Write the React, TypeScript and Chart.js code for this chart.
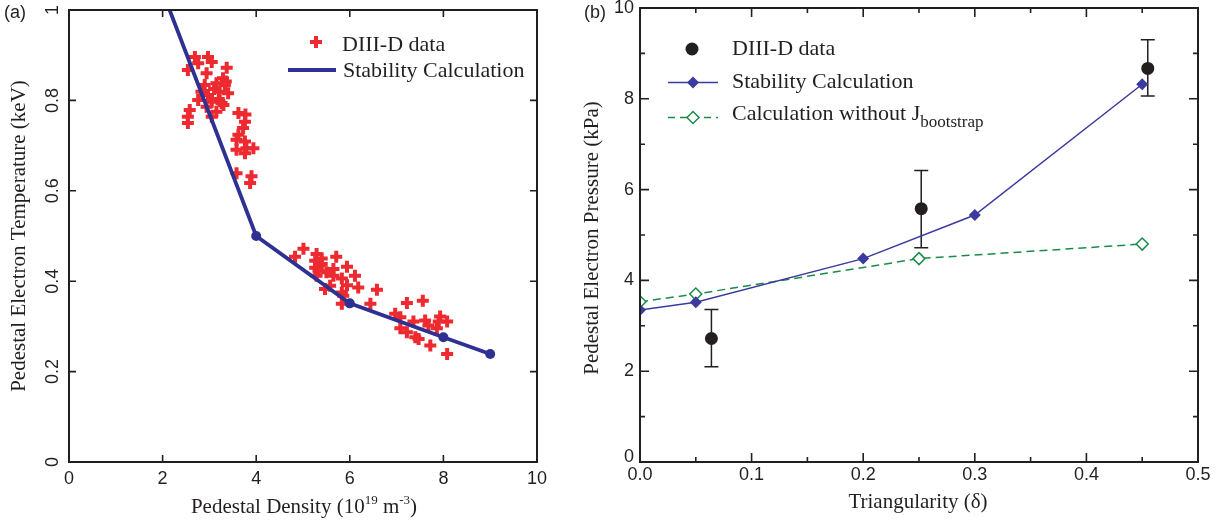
import React, { useEffect, useRef } from "react";
import { Chart, registerables } from "chart.js";

Chart.register(...registerables);

// ---------- Panel (a) data ----------
const densityData = [
  2.69, 2.97, 2.76, 3.05, 2.54, 3.37, 2.94, 3.29, 2.9, 3.15, 3.33, 3.4, 2.83, 3.22, 2.76, 3.05, 3.26, 3.15, 2.58, 2.54, 2.54, 3.05, 2.94, 3.1, 3.35, 3.2, 2.97, 3.3,
  3.62, 3.77, 3.76, 3.72, 3.62, 3.58, 3.76, 3.79, 3.58, 3.94, 3.76, 3.58, 3.9, 3.87,
  5.01, 4.83, 5.29, 5.71, 5.26, 5.4, 5.26, 5.94, 5.33, 5.65, 5.65, 6.11, 5.83, 5.29, 5.58, 5.94, 6.18, 5.47, 5.83, 6.58, 5.86, 6.44, 5.83, 5.4, 5.35, 5.5,
  7.22, 7.56, 6.97, 7.08, 7.36, 7.61, 7.93, 8.08, 7.9, 7.68, 7.08, 7.22, 7.86, 7.4, 7.47, 7.72, 8.08,
];
const temperatureData = [
  0.896, 0.896, 0.882, 0.885, 0.867, 0.872, 0.86, 0.849, 0.834, 0.838, 0.834, 0.816, 0.819, 0.819, 0.801, 0.797, 0.794, 0.775, 0.779, 0.764, 0.75, 0.764, 0.786, 0.825, 0.842, 0.803, 0.812, 0.79,
  0.772, 0.769, 0.753, 0.739, 0.724, 0.713, 0.709, 0.694, 0.691, 0.694, 0.683, 0.639, 0.632, 0.617,
  0.472, 0.454, 0.46, 0.454, 0.445, 0.438, 0.43, 0.432, 0.423, 0.427, 0.412, 0.412, 0.406, 0.412, 0.39, 0.391, 0.386, 0.383, 0.375, 0.381, 0.368, 0.35, 0.35, 0.45, 0.436, 0.42,
  0.352, 0.357, 0.328, 0.32, 0.311, 0.313, 0.322, 0.311, 0.311, 0.302, 0.296, 0.287, 0.296, 0.276, 0.272, 0.258, 0.239,
];
const stabilityDensity = [2.15, 4, 6, 8, 9];
const stabilityTemperature = [1.0, 0.5, 0.351, 0.276, 0.239];
const xTicksA = [0, 2, 4, 6, 8, 10];
const xTickLabelsA = ["0", "2", "4", "6", "8", "10"];
const yTicksA = [0, 0.2, 0.4, 0.6, 0.8, 1];
const yTickLabelsA = ["0", "0.2", "0.4", "0.6", "0.8", "1"];

// ---------- Panel (b) data ----------
const measTriangularity = [0.064, 0.252, 0.455];
const measPressure = [2.72, 5.58, 8.67];
const measPressureLow = [2.1, 4.72, 8.06];
const measPressureHigh = [3.36, 6.42, 9.3];
const calcTriangularity = [0, 0.05, 0.2, 0.3, 0.45];
const calcPressure = [3.35, 3.52, 4.48, 5.44, 8.32];
const noBootTriangularity = [0, 0.05, 0.25, 0.45];
const noBootPressure = [3.53, 3.7, 4.48, 4.8];
const xTicksB = [0, 0.1, 0.2, 0.3, 0.4, 0.5];
const xTickLabelsB = ["0.0", "0.1", "0.2", "0.3", "0.4", "0.5"];
const xMinorTicksB = [0.05, 0.15, 0.25, 0.35, 0.45];
const yTicksB = [0, 2, 4, 6, 8, 10];
const yTickLabelsB = ["0", "2", "4", "6", "8", "10"];
const yMinorTicksB = [1, 3, 5, 7, 9];

// ---------- styles ----------
const INK = "#231f20";
const RED = "#ec2a30";
const NAVY = "#2e3192";
const BLUE = "#3b3a9e";
const GREEN = "#1a8c48";
const SERIF = '"Liberation Serif", "Times New Roman", serif';
const SANS = '"Liberation Sans", Arial, sans-serif';

type Seg = { t: string; size: number; dy?: number };

function segsWidth(ctx: CanvasRenderingContext2D, segs: Seg[]) {
  let w = 0;
  for (const s of segs) {
    ctx.font = `${s.size}px ${SERIF}`;
    w += ctx.measureText(s.t).width;
  }
  return w;
}
function drawSegs(ctx: CanvasRenderingContext2D, segs: Seg[], x: number, y: number) {
  let cx = x;
  ctx.textAlign = "left";
  ctx.textBaseline = "alphabetic";
  for (const s of segs) {
    ctx.font = `${s.size}px ${SERIF}`;
    ctx.fillText(s.t, cx, y + (s.dy || 0));
    cx += ctx.measureText(s.t).width;
  }
}
function drawSegsCentered(ctx: CanvasRenderingContext2D, segs: Seg[], cx: number, y: number) {
  drawSegs(ctx, segs, cx - segsWidth(ctx, segs) / 2, y);
}

function drawFrame(chart: any, xt: number[], yt: number[], xm: number[], ym: number[], majorLen: number, minorLen: number) {
  const { ctx, chartArea: a, scales } = chart;
  const xs = scales.x;
  const ys = scales.y;
  ctx.save();
  ctx.strokeStyle = INK;
  ctx.lineWidth = 1.6;
  const tickX = (v: number, len: number) => {
    const p = xs.getPixelForValue(v);
    ctx.beginPath();
    ctx.moveTo(p, a.bottom);
    ctx.lineTo(p, a.bottom - len);
    ctx.moveTo(p, a.top);
    ctx.lineTo(p, a.top + len);
    ctx.stroke();
  };
  const tickY = (v: number, len: number) => {
    const p = ys.getPixelForValue(v);
    ctx.beginPath();
    ctx.moveTo(a.left, p);
    ctx.lineTo(a.left + len, p);
    ctx.moveTo(a.right, p);
    ctx.lineTo(a.right - len, p);
    ctx.stroke();
  };
  xt.forEach((v) => tickX(v, majorLen));
  xm.forEach((v) => tickX(v, minorLen));
  yt.forEach((v) => tickY(v, majorLen));
  ym.forEach((v) => tickY(v, minorLen));
  ctx.lineWidth = 2;
  ctx.strokeRect(a.left, a.top, a.right - a.left, a.bottom - a.top);
  ctx.restore();
}

const panelAPlugin = {
  id: "panelA",
  afterDraw(chart: any) {
    const { ctx, chartArea: a, scales } = chart;
    drawFrame(chart, xTicksA, yTicksA, [], [], 7, 4);
    ctx.save();
    ctx.fillStyle = INK;
    ctx.font = `18px ${SANS}`;
    ctx.textAlign = "center";
    ctx.textBaseline = "top";
    xTicksA.forEach((v, i) => ctx.fillText(xTickLabelsA[i], scales.x.getPixelForValue(v), a.bottom + 8));
    yTicksA.forEach((v, i) => {
      ctx.save();
      ctx.translate(58, scales.y.getPixelForValue(v));
      ctx.rotate(-Math.PI / 2);
      ctx.textAlign = "center";
      ctx.textBaseline = "alphabetic";
      ctx.fillText(yTickLabelsA[i], 0, 0);
      ctx.restore();
    });
    ctx.font = `18px ${SANS}`;
    ctx.textAlign = "left";
    ctx.textBaseline = "middle";
    ctx.fillText("(a)", 4, 13);
    drawSegsCentered(
      ctx,
      [
        { t: "Pedestal Density (10", size: 21 },
        { t: "19", size: 13, dy: -9 },
        { t: " m", size: 21 },
        { t: "-3", size: 13, dy: -9 },
        { t: ")", size: 21 },
      ],
      304,
      513
    );
    ctx.save();
    ctx.translate(25, 236);
    ctx.rotate(-Math.PI / 2);
    drawSegsCentered(ctx, [{ t: "Pedestal Electron Temperature (keV)", size: 21 }], 0, 0);
    ctx.restore();
    // legend
    ctx.strokeStyle = RED;
    ctx.lineWidth = 4;
    ctx.beginPath();
    ctx.moveTo(316 - 6, 42);
    ctx.lineTo(316 + 6, 42);
    ctx.moveTo(316, 42 - 6);
    ctx.lineTo(316, 42 + 6);
    ctx.stroke();
    drawSegs(ctx, [{ t: "DIII-D data", size: 22 }], 342, 51);
    ctx.strokeStyle = NAVY;
    ctx.lineWidth = 3.8;
    ctx.beginPath();
    ctx.moveTo(288, 70);
    ctx.lineTo(336, 70);
    ctx.stroke();
    drawSegs(ctx, [{ t: "Stability Calculation", size: 22 }], 343, 77);
    ctx.restore();
  },
};

const panelBPlugin = {
  id: "panelB",
  beforeDatasetsDraw(chart: any) {
    const { ctx, scales } = chart;
    ctx.save();
    ctx.strokeStyle = INK;
    ctx.lineWidth = 1.5;
    measTriangularity.forEach((t, i) => {
      const px = scales.x.getPixelForValue(t);
      const top = scales.y.getPixelForValue(measPressureHigh[i]);
      const bot = scales.y.getPixelForValue(measPressureLow[i]);
      ctx.beginPath();
      ctx.moveTo(px, top);
      ctx.lineTo(px, bot);
      ctx.moveTo(px - 7, top);
      ctx.lineTo(px + 7, top);
      ctx.moveTo(px - 7, bot);
      ctx.lineTo(px + 7, bot);
      ctx.stroke();
    });
    ctx.restore();
  },
  afterDraw(chart: any) {
    const { ctx, chartArea: a, scales } = chart;
    drawFrame(chart, xTicksB, yTicksB, xMinorTicksB, yMinorTicksB, 9, 5);
    ctx.save();
    ctx.fillStyle = INK;
    ctx.font = `18px ${SANS}`;
    ctx.textAlign = "center";
    ctx.textBaseline = "top";
    xTicksB.forEach((v, i) => ctx.fillText(xTickLabelsB[i], scales.x.getPixelForValue(v), a.bottom + 4));
    ctx.textAlign = "right";
    ctx.textBaseline = "middle";
    yTicksB.forEach((v, i) => {
      const p = scales.y.getPixelForValue(v);
      ctx.fillText(yTickLabelsB[i], a.left - 6, i === 0 ? p - 5 : p);
    });
    ctx.textAlign = "left";
    ctx.fillText("(b)", 4, 13);
    drawSegsCentered(ctx, [{ t: "Triangularity (δ)", size: 21 }], 338, 508);
    ctx.save();
    ctx.translate(18, 238);
    ctx.rotate(-Math.PI / 2);
    drawSegsCentered(ctx, [{ t: "Pedestal Electron Pressure (kPa)", size: 21 }], 0, 0);
    ctx.restore();
    // legend
    ctx.fillStyle = INK;
    ctx.beginPath();
    ctx.arc(112, 49, 6.5, 0, Math.PI * 2);
    ctx.fill();
    drawSegs(ctx, [{ t: "DIII-D data", size: 22 }], 152, 55);
    ctx.strokeStyle = BLUE;
    ctx.lineWidth = 1.5;
    ctx.beginPath();
    ctx.moveTo(88, 82.5);
    ctx.lineTo(138, 82.5);
    ctx.stroke();
    ctx.fillStyle = BLUE;
    ctx.beginPath();
    ctx.moveTo(113, 82.5 - 6);
    ctx.lineTo(119, 82.5);
    ctx.lineTo(113, 82.5 + 6);
    ctx.lineTo(107, 82.5);
    ctx.closePath();
    ctx.fill();
    ctx.fillStyle = INK;
    drawSegs(ctx, [{ t: "Stability Calculation", size: 22 }], 152, 88);
    ctx.strokeStyle = GREEN;
    ctx.setLineDash([7, 5]);
    ctx.beginPath();
    ctx.moveTo(88, 117.5);
    ctx.lineTo(138, 117.5);
    ctx.stroke();
    ctx.setLineDash([]);
    ctx.fillStyle = "#ffffff";
    ctx.beginPath();
    ctx.moveTo(113, 117.5 - 6);
    ctx.lineTo(119, 117.5);
    ctx.lineTo(113, 117.5 + 6);
    ctx.lineTo(107, 117.5);
    ctx.closePath();
    ctx.fill();
    ctx.stroke();
    ctx.fillStyle = INK;
    drawSegs(
      ctx,
      [
        { t: "Calculation without J", size: 22 },
        { t: "bootstrap", size: 17, dy: 7 },
      ],
      152,
      120
    );
    ctx.restore();
  },
};

function PanelA() {
  const ref = useRef<HTMLCanvasElement | null>(null);
  useEffect(() => {
    if (!ref.current) return;
    const chart = new Chart(ref.current, {
      type: "scatter",
      data: {
        datasets: [
          {
            label: "Stability Calculation",
            data: stabilityDensity.map((x, i) => ({ x, y: stabilityTemperature[i] })),
            showLine: true,
            borderColor: NAVY,
            backgroundColor: NAVY,
            borderWidth: 3.8,
            pointRadius: [0, 5, 5, 5, 5],
            pointBorderWidth: 0,
            pointBackgroundColor: NAVY,
            order: 0,
          } as any,
          {
            label: "DIII-D data",
            data: densityData.map((x, i) => ({ x, y: temperatureData[i] })),
            pointStyle: "cross",
            pointRadius: 6,
            pointBorderWidth: 4,
            borderColor: RED,
            backgroundColor: RED,
            order: 1,
          } as any,
        ],
      },
      options: {
        animation: false,
        responsive: false,
        devicePixelRatio: 1,
        events: [],
        layout: { padding: { left: 69, right: 43, top: 8, bottom: 62 } },
        scales: {
          x: { type: "linear", min: 0, max: 10, display: false },
          y: { type: "linear", min: 0, max: 1, display: false },
        },
        plugins: { legend: { display: false }, tooltip: { enabled: false } },
      },
      plugins: [panelAPlugin],
    });
    return () => chart.destroy();
  }, []);
  return <canvas ref={ref} width={580} height={524} style={{ position: "absolute", left: 0, top: 0 }} />;
}

function PanelB() {
  const ref = useRef<HTMLCanvasElement | null>(null);
  useEffect(() => {
    if (!ref.current) return;
    const chart = new Chart(ref.current, {
      type: "scatter",
      data: {
        datasets: [
          {
            label: "DIII-D data",
            data: measTriangularity.map((x, i) => ({ x, y: measPressure[i] })),
            pointRadius: 6.5,
            pointBorderWidth: 0,
            pointBackgroundColor: INK,
            borderColor: INK,
            order: 0,
          } as any,
          {
            label: "Stability Calculation",
            data: calcTriangularity.map((x, i) => ({ x, y: calcPressure[i] })),
            showLine: true,
            borderColor: BLUE,
            backgroundColor: BLUE,
            borderWidth: 1.5,
            pointStyle: "rectRot",
            pointRadius: 6,
            pointBorderWidth: 0,
            pointBackgroundColor: BLUE,
            order: 1,
          } as any,
          {
            label: "Calculation without Jbootstrap",
            data: noBootTriangularity.map((x, i) => ({ x, y: noBootPressure[i] })),
            showLine: true,
            borderColor: GREEN,
            borderWidth: 1.5,
            borderDash: [8, 5],
            pointStyle: "rectRot",
            pointRadius: 6,
            pointBorderWidth: 1.5,
            pointBorderColor: GREEN,
            pointBackgroundColor: "#ffffff",
            order: 2,
          } as any,
        ],
      },
      options: {
        animation: false,
        responsive: false,
        devicePixelRatio: 1,
        events: [],
        layout: { padding: { left: 60, right: 30, top: 8, bottom: 62 } },
        scales: {
          x: { type: "linear", min: 0, max: 0.5, display: false },
          y: { type: "linear", min: 0, max: 10, display: false },
        },
        plugins: { legend: { display: false }, tooltip: { enabled: false } },
      },
      plugins: [panelBPlugin],
    });
    return () => chart.destroy();
  }, []);
  return <canvas ref={ref} width={648} height={524} style={{ position: "absolute", left: 580, top: 0 }} />;
}

export default function App() {
  return (
    <div style={{ position: "absolute", left: 0, top: 0, width: 1228, height: 524, background: "#ffffff" }}>
      <PanelA />
      <PanelB />
    </div>
  );
}
